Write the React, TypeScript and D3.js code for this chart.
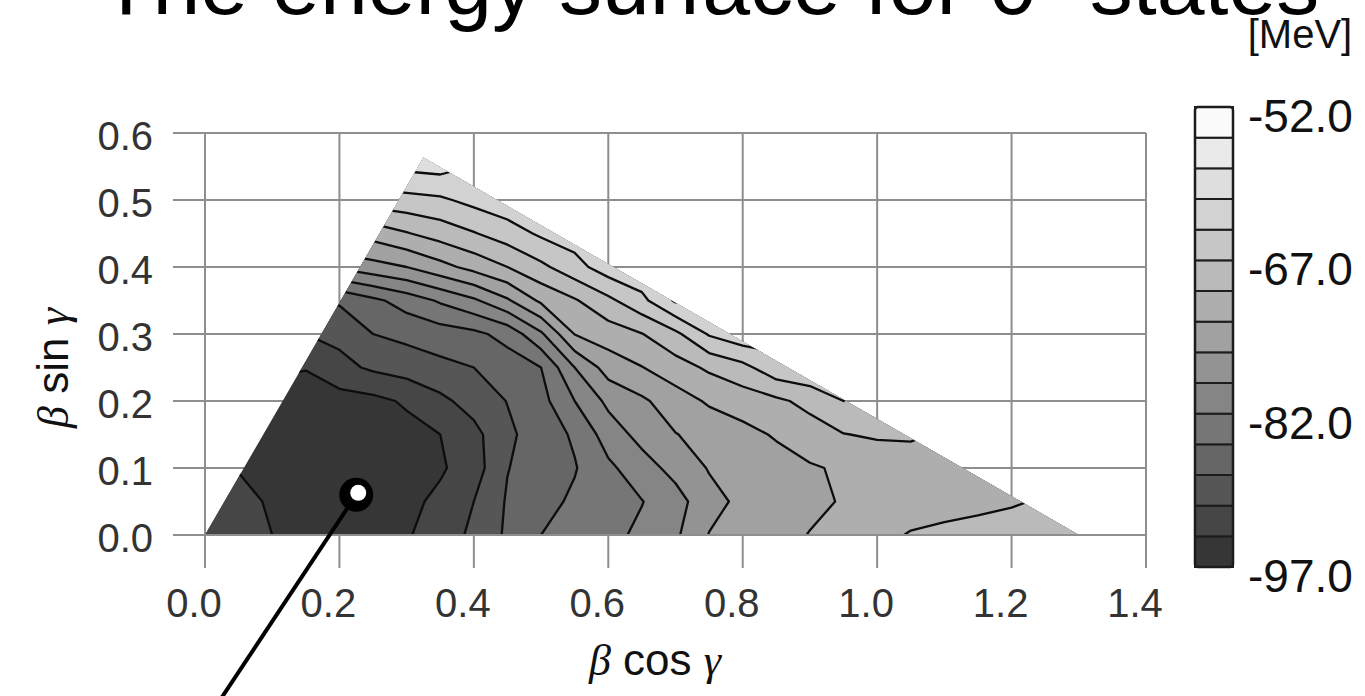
import { useEffect, useRef } from 'react';
import * as d3 from 'd3';

// grid of the energy surface (MeV)
const betaCos = [0, 0.05, 0.1, 0.15, 0.2, 0.25, 0.3, 0.35, 0.4, 0.45, 0.5, 0.55, 0.6, 0.65, 0.7, 0.75, 0.8, 0.85, 0.9, 0.95, 1.0, 1.05, 1.1, 1.15, 1.2, 1.25, 1.3];
const betaSin = [0, 0.05, 0.1, 0.15, 0.2, 0.25, 0.3, 0.35, 0.4, 0.45, 0.5, 0.55, 0.6];
const energy = [
    [-92.0, -93.0, -94.0, -95.0, -95.5, -95.3, -94.3, -92.5, -90.4, -87.5, -85.0, -83.9, -82.8, -81.4, -79.5, -75.9, -74.9, -73.9, -72.9, -71.8, -70.8, -69.8, -69.5, -69.3, -69.1, -69.0, -69.0],
    [-91.5, -92.8, -94.5, -95.5, -96.0, -95.7, -94.8, -93.3, -91.0, -87.7, -86.0, -84.5, -83.3, -82.1, -80.2, -77.0, -75.3, -74.5, -73.6, -72.8, -72.0, -71.3, -70.8, -70.5, -70.2, -69.8, -69.3],
    [-93.5, -94.2, -95.2, -95.8, -96.0, -95.8, -95.3, -94.4, -92.4, -88.1, -86.6, -85.2, -82.6, -80.3, -78.0, -75.8, -75.0, -74.2, -73.3, -72.6, -72.1, -71.5, -70.9, -70.8, -70.5, -70.0, -69.6],
    [-93.5, -93.9, -94.6, -95.4, -95.7, -95.5, -95.0, -94.0, -91.9, -88.6, -86.5, -84.6, -80.6, -78.0, -76.1, -75.0, -73.9, -72.7, -71.4, -70.1, -69.6, -69.6, -70.3, -70.7, -70.7, -70.3, -69.9],
    [-94.0, -94.2, -94.5, -95.0, -95.2, -94.8, -93.6, -91.7, -89.8, -87.9, -86.0, -82.0, -78.3, -76.5, -74.4, -72.6, -71.6, -70.6, -69.1, -67.0, -67.5, -68.8, -70.0, -70.4, -70.8, -70.5, -70.1],
    [-93.5, -93.6, -93.8, -93.9, -91.9, -90.5, -89.7, -88.8, -88.0, -86.5, -85.0, -79.0, -74.7, -73.1, -71.3, -69.5, -67.9, -65.0, -64.4, -65.6, -66.8, -68.1, -69.4, -70.2, -70.6, -70.8, -70.4],
    [-91.0, -91.0, -91.0, -91.0, -90.2, -88.0, -87.2, -86.4, -85.7, -84.0, -79.5, -72.9, -71.5, -70.1, -67.7, -63.7, -61.9, -62.8, -63.8, -64.9, -66.1, -67.3, -68.6, -69.9, -70.3, -70.7, -70.6],
    [-88.0, -88.0, -87.8, -87.7, -87.6, -85.7, -83.7, -81.6, -79.5, -76.4, -72.4, -70.3, -67.7, -64.8, -60.6, -60.8, -61.3, -62.3, -63.3, -64.3, -65.4, -66.6, -67.9, -69.2, -70.1, -70.5, -70.8],
    [-78.5, -78.5, -78.5, -78.5, -78.5, -77.1, -76.0, -74.0, -72.0, -70.0, -67.7, -65.1, -62.4, -61.6, -60.8, -60.5, -60.9, -61.7, -62.7, -63.6, -64.8, -65.9, -67.1, -68.4, -69.7, -70.3, -70.7],
    [-72.0, -72.0, -72.0, -72.0, -72.0, -71.8, -70.2, -68.7, -67.2, -65.5, -63.5, -62.5, -62.3, -62.0, -61.2, -60.7, -60.7, -61.2, -62.1, -63.1, -64.1, -65.2, -66.4, -67.7, -69.0, -70.1, -70.5],
    [-65.5, -65.5, -65.5, -65.5, -65.5, -65.5, -65.0, -64.5, -63.1, -61.9, -62.2, -62.4, -62.4, -62.2, -61.7, -61.0, -60.5, -60.8, -61.6, -62.5, -63.5, -64.6, -65.8, -66.9, -68.2, -69.5, -70.3],
    [-60.5, -60.5, -60.5, -60.5, -60.5, -60.5, -60.3, -59.9, -61.1, -61.6, -62.1, -62.3, -62.4, -62.4, -62.1, -61.3, -60.7, -60.7, -61.1, -62.0, -62.9, -63.9, -65.1, -66.3, -67.4, -68.8, -70.0],
    [-60.0, -60.0, -60.0, -60.0, -60.0, -60.0, -59.5, -59.5, -60.5, -61.3, -61.8, -62.1, -62.3, -62.5, -62.3, -61.9, -61.0, -60.6, -60.8, -61.5, -62.4, -63.4, -64.4, -65.6, -66.8, -68.1, -69.3],
];

// the calculated region (corners in beta cos / beta sin)
const regionCorners = [[0, 0], [1.3, 0], [0.325, 0.563]];

// colour levels of the legend
const levels = [-97, -94, -91, -88, -85, -82, -79, -76, -73, -70, -67, -64, -61, -58, -55, -52];
const bandColors = ['#363636', '#464646', '#565656', '#666666', '#767676', '#858585', '#939393', '#a1a1a1', '#aeaeae', '#bababa', '#c6c6c6', '#d2d2d2', '#dedede', '#eaeaea', '#fbfbfb'];
const legendLabels = [-52, -67, -82, -97];

const xTicks = [0, 0.2, 0.4, 0.6, 0.8, 1.0, 1.2, 1.4];
const yTicks = [0, 0.1, 0.2, 0.3, 0.4, 0.5, 0.6];

// minimum marker and the pointer line leaving the chart
const minimumMark = { x: 0.225, y: 0.06 };
const pointerEnd = { x: 0.02, y: -0.25 };

const App = () => {
    const ref = useRef<SVGSVGElement>(null);

    useEffect(() => {
        document.body.style.margin = '0';
        document.body.style.overflow = 'hidden';

        const svgElement: any = d3.select(ref.current);
        svgElement.selectAll('*').remove();

        const x = d3.scaleLinear().domain([0, 1.4]).range([205, 1146]);
        const y = d3.scaleLinear().domain([0, 0.6]).range([535, 133]);
        const font = '"Liberation Sans", Arial, sans-serif';
        const greek = '"Liberation Serif", "DejaVu Serif", serif';

        // title, cut by the top of the picture
        svgElement.append('text')
            .attr('x', 100).attr('y', 14)
            .attr('font-family', font).attr('font-size', 86)
            .attr('fill', '#000')
            .text('The energy surface for 0\u207A states');

        // grid (lines run past the axes as ticks)
        const grid = svgElement.append('g').attr('stroke', '#8e8e8e').attr('stroke-width', 2);
        yTicks.forEach((t) => {
            grid.append('line').attr('x1', 173).attr('x2', x(1.4)).attr('y1', y(t)).attr('y2', y(t));
        });
        xTicks.forEach((t) => {
            grid.append('line').attr('x1', x(t)).attr('x2', x(t)).attr('y1', y(0.6)).attr('y2', 568);
        });

        // clip to the triangle
        const defs = svgElement.append('defs');
        defs.append('clipPath').attr('id', 'region-clip')
            .append('polygon')
            .attr('points', regionCorners.map((c) => `${x(c[0])},${y(c[1])}`).join(' '));

        const nx = betaCos.length;
        const ny = betaSin.length;
        const gx = d3.scaleLinear().domain([0.5, nx - 0.5]).range([betaCos[0], betaCos[nx - 1]]);
        const gy = d3.scaleLinear().domain([0.5, ny - 0.5]).range([betaSin[0], betaSin[ny - 1]]);
        const toScreen = d3.geoTransform({
            point(px: number, py: number) {
                (this as any).stream.point(x(gx(px)), y(gy(py)));
            }
        });
        const path = d3.geoPath(toScreen);
        const contours = d3.contours().size([nx, ny]).thresholds(levels.slice(0, -1))(energy.flat());

        const surface = svgElement.append('g').attr('clip-path', 'url(#region-clip)');
        surface.selectAll('path.band')
            .data(contours)
            .enter().append('path')
            .attr('class', 'band')
            .attr('d', (d: any) => path(d))
            .attr('fill', (_: any, i: number) => bandColors[i])
            .attr('stroke', 'none');

        surface.selectAll('path.iso')
            .data(contours.slice(1))
            .enter().append('path')
            .attr('class', 'iso')
            .attr('d', (d: any) => path(d))
            .attr('fill', 'none')
            .attr('stroke', '#0d0d0d')
            .attr('stroke-width', 2.3)
            .attr('stroke-linejoin', 'round');

        // axis base line drawn again on top of the surface
        svgElement.append('line')
            .attr('x1', 173).attr('x2', x(1.4)).attr('y1', y(0)).attr('y2', y(0))
            .attr('stroke', '#8e8e8e').attr('stroke-width', 2);

        // tick labels
        svgElement.append('g').selectAll('text')
            .data(xTicks).enter().append('text')
            .attr('x', (d: number) => x(d) - 11)
            .attr('y', 617)
            .attr('text-anchor', 'middle')
            .attr('font-family', font).attr('font-size', 40).attr('fill', '#333')
            .text((d: number) => d.toFixed(1));
        svgElement.append('g').selectAll('text')
            .data(yTicks).enter().append('text')
            .attr('x', 153)
            .attr('y', (d: number) => y(d) + 17)
            .attr('text-anchor', 'end')
            .attr('font-family', font).attr('font-size', 40).attr('fill', '#333')
            .text((d: number) => d.toFixed(1));

        // axis titles
        const xTitle = svgElement.append('text')
            .attr('x', 655).attr('y', 675)
            .attr('text-anchor', 'middle')
            .attr('font-family', font).attr('font-size', 44).attr('fill', '#111');
        xTitle.append('tspan').attr('font-family', greek).attr('font-style', 'italic').text('\u03B2');
        xTitle.append('tspan').text(' cos ');
        xTitle.append('tspan').attr('font-family', greek).attr('font-style', 'italic').text('\u03B3');

        const yTitle = svgElement.append('text')
            .attr('transform', 'translate(68, 368) rotate(-90)')
            .attr('text-anchor', 'middle')
            .attr('font-family', font).attr('font-size', 44).attr('fill', '#111');
        yTitle.append('tspan').attr('font-family', greek).attr('font-style', 'italic').text('\u03B2');
        yTitle.append('tspan').text(' sin ');
        yTitle.append('tspan').attr('font-family', greek).attr('font-style', 'italic').text('\u03B3');

        // minimum marker with pointer
        svgElement.append('line')
            .attr('x1', x(minimumMark.x)).attr('y1', y(minimumMark.y))
            .attr('x2', x(pointerEnd.x)).attr('y2', y(pointerEnd.y))
            .attr('stroke', '#000').attr('stroke-width', 4);
        svgElement.append('circle')
            .attr('cx', x(minimumMark.x)).attr('cy', y(minimumMark.y)).attr('r', 17)
            .attr('fill', '#000');
        svgElement.append('circle')
            .attr('cx', x(minimumMark.x) + 2).attr('cy', y(minimumMark.y) - 2).attr('r', 8)
            .attr('fill', '#fff');

        // colour legend
        const bar = d3.scaleLinear().domain([-97, -52]).range([567, 107]);
        const legend = svgElement.append('g');
        legend.selectAll('rect')
            .data(bandColors).enter().append('rect')
            .attr('x', 1195)
            .attr('y', (_: any, i: number) => bar(levels[i + 1]))
            .attr('width', 38)
            .attr('height', (_: any, i: number) => bar(levels[i]) - bar(levels[i + 1]))
            .attr('fill', (d: string) => d)
            .attr('stroke', '#1c1c1c').attr('stroke-width', 2);
        legend.append('rect')
            .attr('x', 1195).attr('y', bar(-52)).attr('width', 38).attr('height', bar(-97) - bar(-52))
            .attr('rx', 3).attr('fill', 'none').attr('stroke', '#1c1c1c').attr('stroke-width', 2.5);
        legend.selectAll('text')
            .data(legendLabels).enter().append('text')
            .attr('x', 1248)
            .attr('y', (d: number) => bar(d) + 25)
            .attr('font-family', font).attr('font-size', 46).attr('fill', '#111')
            .text((d: number) => d.toFixed(1));
        legend.append('text')
            .attr('x', 1300).attr('y', 48)
            .attr('text-anchor', 'middle')
            .attr('font-family', font).attr('font-size', 40).attr('fill', '#111')
            .text('[MeV]');
    }, []);

    return (
        <svg ref={ref} width={1365} height={696} style={{ display: 'block' }}></svg>
    );
};

export default App;
